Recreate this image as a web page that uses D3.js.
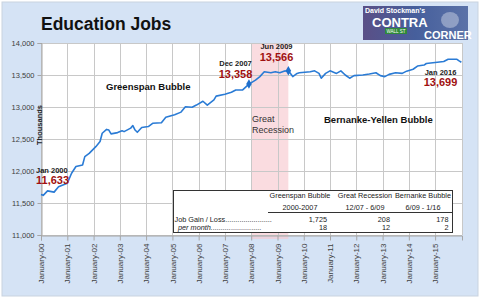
<!DOCTYPE html>
<html><head><meta charset="utf-8">
<script src="https://cdn.jsdelivr.net/npm/d3@7"></script>
<style>
html,body{margin:0;padding:0;background:#fff;}
svg{display:block;font-family:Arial,"Liberation Sans",sans-serif;}
</style></head>
<body><svg id="c" width="480" height="300"></svg>
<script>
// ---- data ----
const dates = ["2000-01","2000-02","2000-04","2000-07","2000-09","2001-01","2001-03","2001-05","2001-08","2001-09","2001-11",
"2002-02","2002-04","2002-05","2002-07","2002-08","2002-09","2002-12","2003-02","2003-03","2003-06","2003-07","2003-08","2003-09","2003-11",
"2004-02","2004-04","2004-08","2004-10","2005-02","2005-05","2005-07","2005-10","2005-12","2006-03","2006-05","2006-08","2006-09",
"2007-01","2007-04","2007-06","2007-09","2007-12","2008-03","2008-05","2008-07","2008-10","2008-12","2009-02","2009-04","2009-06",
"2009-08","2009-10","2009-11","2010-04","2010-06","2010-08","2010-09","2010-11","2011-01","2011-04","2011-06","2011-08","2011-10","2011-12",
"2012-04","2012-07","2012-10","2012-12","2013-02","2013-04","2013-07","2013-10","2013-12","2014-03","2014-05","2014-08","2014-09",
"2015-02","2015-05","2015-07","2015-11","2015-12","2016-01"];
const jobs = [11633,11620,11690,11670,11755,11810,11965,12070,12095,12225,12275,
12380,12460,12590,12650,12640,12580,12600,12630,12615,12670,12710,12640,12605,12680,
12695,12745,12755,12840,12880,12920,13005,12995,13030,13090,13030,13110,13170,
13200,13230,13265,13265,13358,13420,13475,13550,13535,13550,13535,13560,13566,
13475,13525,13535,13550,13565,13525,13450,13525,13565,13525,13565,13500,13450,13490,
13500,13515,13535,13490,13475,13510,13535,13525,13560,13590,13640,13655,13680,
13700,13710,13745,13745,13720,13699];
const yTicks = [11000,11500,12000,12500,13000,13500,14000];
const xTickYears = [2000,2001,2002,2003,2004,2005,2006,2007,2008,2009,2010,2011,2012,2013,2014,2015];
const markerDates = ["2007-12","2009-06"];
const recession = ["2008-01","2009-06"];
const callouts = [
  {date:"2000-01", label:"Jan 2000", value:"11,633"},
  {date:"2007-12", label:"Dec 2007", value:"13,358"},
  {date:"2009-06", label:"Jun 2009", value:"13,566"},
  {date:"2016-01", label:"Jan 2016", value:"13,699"}
];
const tableHeads = ["Greenspan Bubble","Great Recession","Bernanke Bubble"];
const tablePeriods = ["2000-2007","12/07 - 6/09","6/09 - 1/16"];
const jobGain = ["1,725","208","178"];
const perMonth = ["18","12","2"];

// ---- setup ----
const parse = d3.timeParse("%Y-%m");
const svg = d3.select("#c");
const L=41, R=462, T=43, B=235;
const x = d3.scaleTime().domain([parse("2000-01"), new Date(2016,0,10)]).range([L,R]);
const y = d3.scaleLinear().domain([11000,14000]).range([B,T]);

// outer background
svg.append("rect").attr("x",0).attr("y",0).attr("width",480).attr("height",300).attr("fill","#fff");
svg.append("rect").attr("x",2).attr("y",2).attr("width",476).attr("height",294)
  .attr("fill","#d5e3f5").attr("stroke","#c9d3df").attr("stroke-width",1);
// plot area
svg.append("rect").attr("x",L).attr("y",T).attr("width",R-L).attr("height",B-T).attr("fill","#fff");

// recession band
svg.append("rect").attr("x",x(parse(recession[0]))).attr("y",T)
  .attr("width",x(parse(recession[1]))-x(parse(recession[0]))).attr("height",B-T+4)
  .attr("fill","#f7c9cf").attr("opacity",0.65);

// gridlines
const grid = svg.append("g");
grid.selectAll(".hg").data(yTicks).join("line")
  .attr("x1",L).attr("x2",R).attr("y1",d=>Math.round(y(d))+0.5).attr("y2",d=>Math.round(y(d))+0.5)
  .attr("stroke","#c8c8c8").attr("stroke-width",1);
grid.selectAll(".vg").data(xTickYears).join("line")
  .attr("y1",T).attr("y2",B).attr("x1",d=>Math.round(x(new Date(d,0,1)))+0.5).attr("x2",d=>Math.round(x(new Date(d,0,1)))+0.5)
  .attr("stroke","#c8c8c8").attr("stroke-width",1);
svg.append("line").attr("x1",R+0.5).attr("x2",R+0.5).attr("y1",T).attr("y2",B).attr("stroke","#c8c8c8");

// axes
const yAxis = svg.append("g").attr("transform",`translate(${L+0.5},0)`)
  .call(d3.axisLeft(y).tickValues(yTicks).tickSize(4).tickFormat(d3.format(",")));
yAxis.select(".domain").attr("stroke","#a6a6a6");
yAxis.selectAll(".tick line").attr("stroke","#a6a6a6");
yAxis.selectAll("text").attr("fill","#404040").attr("font-size","7.5px").attr("font-family","Arial,sans-serif").attr("x",-7);

const xAxis = svg.append("g").attr("transform",`translate(0,${B+0.5})`)
  .call(d3.axisBottom(x).tickValues(xTickYears.map(v=>new Date(v,0,1))).tickSize(5).tickFormat(d3.timeFormat("%B-%y")));
xAxis.select(".domain").attr("stroke","#a6a6a6");
xAxis.selectAll(".tick line").attr("stroke","#a6a6a6");
xAxis.selectAll("text").attr("fill","#404040").attr("font-size","8px").attr("font-family","Arial,sans-serif")
  .attr("text-anchor","end").attr("transform","rotate(-90)").attr("x",-8).attr("y",0).attr("dy","0.33em");

// line
const pts = dates.map((d,i)=>({d:parse(d),v:jobs[i]}));
svg.append("path").datum(pts).attr("fill","none").attr("stroke","#2a7bd5").attr("stroke-width",1.6)
  .attr("stroke-linejoin","round")
  .attr("d",d3.line().x(p=>x(p.d)).y(p=>y(p.v)));

// markers
const byDate = new Map(dates.map((d,i)=>[d,jobs[i]]));
svg.selectAll(".mk").data(markerDates).join("path")
  .attr("d",d3.symbol(d3.symbolDiamond,26))
  .attr("transform",d=>`translate(${x(parse(d))},${y(byDate.get(d))})`)
  .attr("fill","#1f6fcc");

// title
svg.append("text").attr("x",41).attr("y",30).text("Education Jobs")
  .attr("font-size","17.5px").attr("font-weight","bold").attr("fill","#111");

// Thousands
svg.append("text").attr("transform","translate(42,125) rotate(-90)").attr("text-anchor","middle")
  .attr("font-size","7.5px").attr("font-weight","bold").attr("fill","#222").text("Thousands");

// callouts
const cpos = [
  {x:36,anchor:"start",ly:172.7,vy:183.5},
  {x:235.5,anchor:"middle",ly:65.7,vy:77.5},
  {x:276.5,anchor:"middle",ly:49,vy:61},
  {x:440.5,anchor:"middle",ly:75,vy:86}
];
callouts.forEach((c,i)=>{
  const p=cpos[i];
  svg.append("text").attr("x",p.x).attr("y",p.ly).attr("text-anchor",p.anchor)
    .attr("font-size","7.5px").attr("font-weight","bold").attr("fill","#222").text(c.label);
  svg.append("text").attr("x",p.x).attr("y",p.vy).attr("text-anchor",p.anchor)
    .attr("font-size","11px").attr("font-weight","bold").attr("fill","#a01010").text(c.value);
});

// period labels
svg.append("text").attr("x",106).attr("y",89.5).attr("font-size","9.5px").attr("font-weight","bold").attr("fill","#111").text("Greenspan Bubble");
svg.append("text").attr("x",324).attr("y",122.5).attr("font-size","9.5px").attr("font-weight","bold").attr("fill","#111").text("Bernanke-Yellen Bubble");
svg.append("text").attr("x",252).attr("y",121.5).attr("font-size","9px").attr("fill","#333").text("Great");
svg.append("text").attr("x",252).attr("y",133.3).attr("font-size","9px").attr("fill","#333").text("Recession");

// table
const tf = "'Liberation Sans Narrow','Arial Narrow',Arial,sans-serif";
const tb = svg.append("g").attr("font-family",tf).attr("font-size","7.3px").attr("fill","#222");
tb.append("rect").attr("x",173.5).attr("y",190.5).attr("width",279).attr("height",42)
  .attr("fill","#fff").attr("stroke","#333").attr("stroke-width",1);
const hc=[300,365,423], vr=[327,390,448.5];
tableHeads.forEach((h,i)=>tb.append("text").attr("x",hc[i]).attr("y",198).attr("text-anchor","middle").text(h));
tablePeriods.forEach((h,i)=>tb.append("text").attr("x",hc[i]).attr("y",209.5).attr("text-anchor","middle").text(h));
tb.append("line").attr("x1",268).attr("x2",452.5).attr("y1",212.5).attr("y2",212.5).attr("stroke","#333");
tb.append("text").attr("x",174.5).attr("y",221.5).text("Job Gain / Loss.......................");
tb.append("text").attr("x",178).attr("y",230).attr("font-style","italic").text("per month.........................");
jobGain.forEach((v,i)=>tb.append("text").attr("x",vr[i]).attr("y",221.5).attr("text-anchor","end").text(v));
perMonth.forEach((v,i)=>tb.append("text").attr("x",vr[i]).attr("y",230).attr("text-anchor","end").text(v));

// logo
const defs = svg.append("defs");
const g1 = defs.append("linearGradient").attr("id","lg").attr("x1","0").attr("x2","1").attr("y1","0").attr("y2","0");
g1.append("stop").attr("offset","0").attr("stop-color","#5a4f86");
g1.append("stop").attr("offset","0.5").attr("stop-color","#465f9c");
g1.append("stop").attr("offset","1").attr("stop-color","#5b72a8");
const lg = svg.append("g");
lg.append("rect").attr("x",363).attr("y",6).attr("width",105).attr("height",34).attr("fill","url(#lg)");
lg.append("ellipse").attr("cx",450).attr("cy",20).attr("rx",9).attr("ry",8).attr("fill","#c9d2e3").attr("opacity",0.5);
lg.append("rect").attr("x",385).attr("y",28).attr("width",22).attr("height",6).attr("fill","#2f8a3a");
lg.append("text").attr("x",396).attr("y",33).attr("text-anchor","middle").attr("font-size","4.5px").attr("fill","#fff").text("WALL ST");
lg.append("text").attr("x",365).attr("y",13).attr("font-size","7px").attr("font-weight","bold").attr("fill","#fff").text("David Stockman's");
lg.append("text").attr("x",372).attr("y",27).attr("font-size","13px").attr("font-weight","bold").attr("fill","#fff").text("CONTRA");
lg.append("text").attr("x",424).attr("y",38.5).attr("font-size","11px").attr("font-weight","bold").attr("fill","#fff").text("CORNER");
</script></body></html>
